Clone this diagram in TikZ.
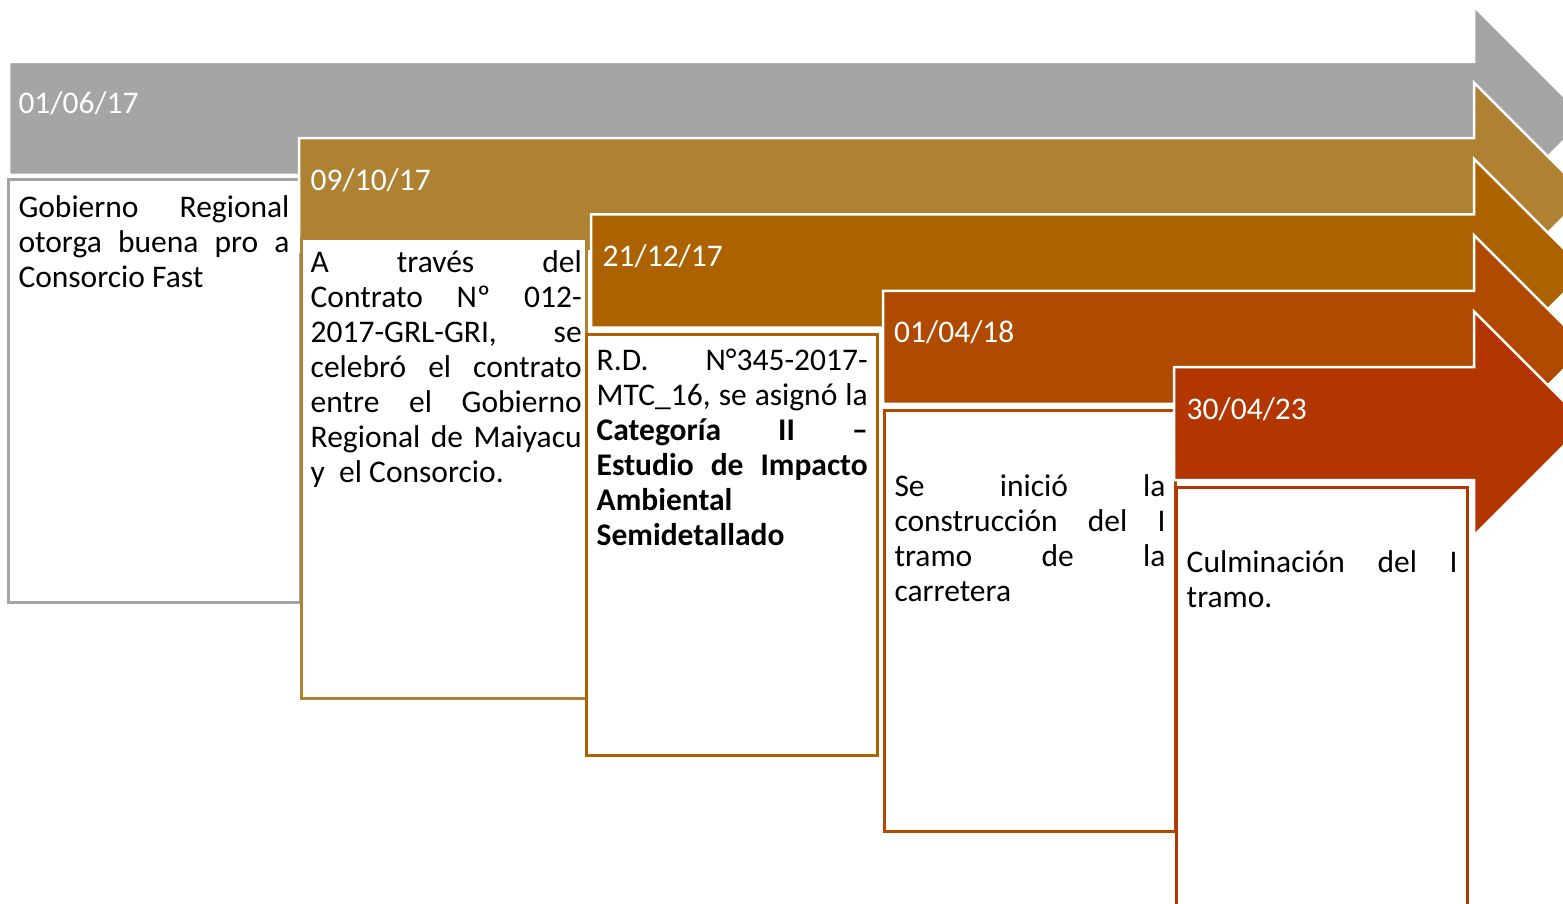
\documentclass[tikz,border=0pt]{standalone}
\usepackage{fontspec}
\setmainfont{Carlito}
\definecolor{cgray}{HTML}{A5A5A5}
\definecolor{cgold}{HTML}{AE8232}
\definecolor{corng}{HTML}{AD6200}
\definecolor{crust}{HTML}{B04A00}
\definecolor{cred}{HTML}{B33600}
\newcommand\jline[1]{\strut\makebox[271pt][s]{#1}}
\newcommand\tlarrow[3]{%
  \filldraw[arr, fill=#3] (#1,#2-56.5) -- (1474,#2-56.5) -- (1474,#2-112) -- (1586,#2)
    -- (1474,#2+112) -- (1474,#2+56.5) -- (#1,#2+56.5) -- cycle;}
\tikzset{
  arr/.style={draw=white, line width=2.5pt, line join=miter},
  bx/.style={line width=3pt, fill=white},
  datelbl/.style={text=white, font=\fontsize{31.5}{35}\selectfont, anchor=base west, inner sep=0pt},
  bodytxt/.style={text=black, font=\fontsize{31.5}{35}\selectfont, anchor=north west, inner sep=0pt, align=left}
}
\begin{document}
\begin{tikzpicture}[x=1pt,y=-1pt]
\clip (0,0) rectangle (1563,904);
\fill[white] (0,0) rectangle (1563,904);
% arrow 1
\tlarrow{9}{118.5}{cgray}
\node[datelbl] (d1) at (18.3,114) {01/06/17};
\draw[bx, draw=cgray] (8.5,180) rectangle (300,602);
\node[bodytxt] (t1) at (18.3,192.5) {\jline{Gobierno Regional}\\\jline{otorga buena pro a}\\\strut Consorcio Fast};
% arrow 2
\tlarrow{299}{194.75}{cgold}
\node[datelbl] (d2) at (310.5,190.25) {09/10/17};
\draw[bx, draw=cgold] (301,238.5) rectangle (586,698);
\node[bodytxt] (t2) at (310.5,247.5) {\jline{A través del}\\\jline{Contrato Nº 012-}\\\jline{2017-GRL-GRI, se}\\\jline{celebró el contrato}\\\jline{entre el Gobierno}\\\jline{Regional de Maiyacu}\\\strut y\ \ el Consorcio.};
% arrow 3
\tlarrow{591}{271}{corng}
\node[datelbl] (d3) at (602.5,266.5) {21/12/17};
\draw[bx, draw=corng] (586.5,334.5) rectangle (877,755);
\node[bodytxt] (t3) at (596.5,345.5) {\jline{R.D. N°345-2017-}\\\jline{MTC\_16, se asignó la}\\\jline{\bfseries Categoría II –}\\\jline{\bfseries Estudio de Impacto}\\\strut\textbf{Ambiental}\\\strut\textbf{Semidetallado}};
% arrow 4
\tlarrow{883}{347.25}{crust}
\node[datelbl] (d4) at (894,342.75) {01/04/18};
\draw[bx, draw=crust] (884.5,410) rectangle (1175,831);
\node[bodytxt] (t4) at (894.3,471.5) {\jline{Se inició la}\\\jline{construcción del I}\\\jline{tramo de la}\\\strut carretera};
% arrow 5
\tlarrow{1174}{423.5}{cred}
\node[datelbl] (d5) at (1186.5,419) {30/04/23};
\draw[bx, draw=cred] (1176.5,487) rectangle (1467,960);
\node[bodytxt] (t5) at (1186.5,547.5) {\jline{Culminación del I}\\\strut tramo.};
\end{tikzpicture}
\end{document}
